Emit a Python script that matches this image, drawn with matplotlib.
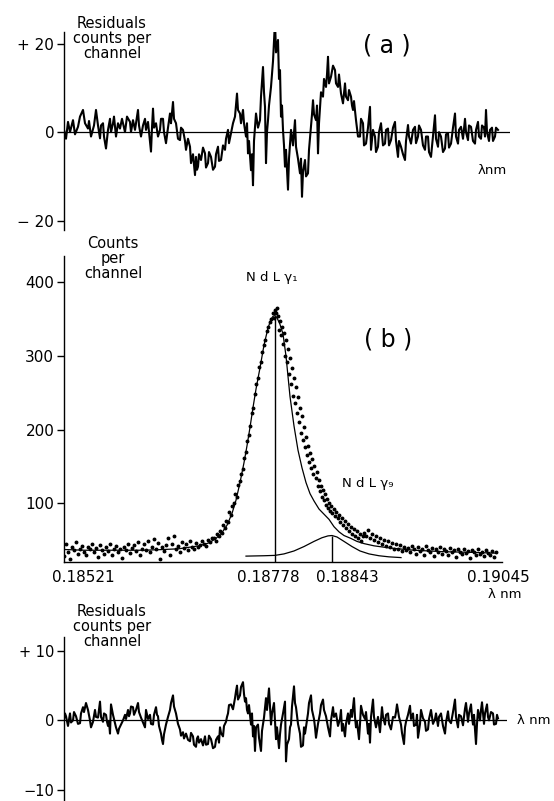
import matplotlib
matplotlib.use("Agg")
import matplotlib.pyplot as plt

plt.rcParams["font.family"] = ["DejaVu Sans"]

# ---------- data (x = channel number) ----------
# (a) residuals, counts per channel
res_a_ch = [0, 2, 4, 6, 9, 11, 14, 16, 19, 21, 24, 25, 27, 30, 32, 34, 36, 37, 39, 40,
            42, 44, 46, 47, 49, 50, 52, 54, 56, 58, 61, 63, 66, 67, 69, 71, 74, 75, 77, 79,
            81, 82, 84, 85, 87, 88, 89, 90, 92, 94, 96, 97, 99, 100, 102, 104, 106, 107, 109, 110,
            112, 114, 116, 117, 119, 121, 122, 124, 126, 127, 129, 131, 132, 133, 134, 135, 137, 139, 141, 142,
            144, 145, 147, 149, 151, 152, 154, 155, 157, 159, 161, 162, 164, 165, 167, 169, 171, 172, 173, 174,
            176, 177, 179, 180, 182, 183, 184, 185, 187, 188, 189, 190, 192, 194, 196, 197, 199, 200, 201, 202,
            203, 204, 205, 207, 209, 211, 212, 214, 215, 216, 217, 218, 219, 220, 221, 222, 224, 225, 227, 229,
            231, 232, 234, 236, 237, 238, 239, 241, 242, 244, 245, 247, 248, 249, 250, 252, 253, 254, 255, 256,
            257, 259, 260, 262, 263, 264, 265, 267, 269, 271, 272, 274, 275, 277, 279, 281, 282, 284, 285, 287,
            288, 289, 290, 292, 294, 296, 297, 299, 300, 302, 304, 306, 307, 309, 311, 312, 314, 315, 317, 319,
            321, 322, 324, 325, 327, 329, 331, 332, 334, 335, 337, 339, 341, 342, 344, 345, 347, 349, 351, 352,
            354, 355, 357, 359, 361, 362, 364, 365, 367, 369, 371, 372, 374, 375, 377, 379, 381, 382, 384, 385,
            387, 389, 391, 392, 394, 395, 397, 399, 401, 402, 404, 405, 407, 409, 411, 412, 414, 415, 417, 418,
            420, 421, 422, 423, 425, 426, 428, 429, 431, 432, 434]
res_a_val = [0.5, -1.5, 2.3, 0.0, 2.7, -0.5, 1.2, 3.5, 5.0, 2.0, 0.8, 2.5, -1.0, 1.5, 5.0, 1.5, -1.4, 1.5, 2.0, -1.0,
             -3.7, 0.5, 3.0, 0.0, 2.0, 3.5, -1.0, 2.0, 0.8, 3.0, 0.0, 3.5, 2.3, 0.0, 2.7, 0.5, 5.0, 1.5, -1.0, 1.5,
             3.0, 0.5, 2.3, 0.0, -4.4, 1.0, 5.3, 1.0, 2.0, -1.0, 0.5, 3.0, 3.0, 0.0, -2.5, 1.0, 4.2, 2.0, 6.8, 3.0,
             2.0, -1.5, -1.8, 1.0, 0.5, -2.0, -4.0, -1.5, -3.3, -7.0, -5.0, -9.7, -5.6, -8.5, -7.8, -5.0, -6.3, -3.5, -4.8, -8.0,
             -7.0, -4.5, -5.6, -8.5, -7.8, -5.0, -3.3, -6.5, -6.3, -3.0, -4.0, -1.5, 0.5, -2.5, -0.3, 2.0, 3.5, 6.0, 8.7, 5.0,
             4.2, 2.0, 5.0, 2.0, -1.0, 2.0, -4.8, -2.0, -8.6, -5.0, -12.0, -2.0, 4.2, 1.0, 2.7, 8.0, 14.7, 9.0, 5.7, -7.0,
             0.0, 2.7, 6.0, 10.2, 16.0, 25.0, 18.0, 20.8, 12.0, 14.0, 3.5, 6.0, 0.5, -3.0, -7.8, -4.0, -13.0, -6.0, 0.5, -3.0,
             2.7, -3.3, -6.0, -9.3, -6.0, -14.6, -9.0, -6.3, -10.0, -9.3, -4.0, 1.2, 4.0, 7.2, 4.0, 2.7, 6.0, -4.8, 2.0, 5.7,
             9.0, 8.0, 12.0, 10.2, 13.0, 17.0, 11.0, 12.5, 15.0, 14.0, 11.0, 10.2, 13.0, 8.7, 6.5, 11.0, 8.0, 7.2, 9.5, 8.0,
             6.0, 5.0, 7.0, 2.7, -1.0, -1.0, 3.0, 2.0, -3.0, -2.6, 1.0, 5.7, -4.0, 0.5, -1.0, -4.5, -3.3, 0.0, 2.0, -3.0,
             -2.6, 0.5, 0.8, -3.0, -1.8, 1.0, 2.3, -2.0, -5.6, -2.0, -3.3, -5.0, -6.3, -2.0, 1.6, -1.0, -2.6, 0.5, 1.2, -2.5,
             -1.0, 1.5, 0.5, -3.0, -4.0, -1.0, -1.0, -4.5, -5.6, -1.0, 3.8, -1.5, -3.3, 0.0, -1.0, -4.5, -3.7, -0.5, -0.3, -3.5,
             -2.6, 1.0, 4.2, -1.0, -2.6, 0.5, 1.2, -1.5, 3.0, 0.0, -1.8, 1.5, 1.2, -2.0, -2.6, 0.5, 2.3, -1.0, -1.5, 1.5,
             1.0, -1.0, 5.0, 0.0, -2.0, 0.5, 1.0, -2.0, -1.0, 1.0, 0.5]

# (b) measured spectrum (dots)
dot_ch = ([0, 2, 4, 6, 8, 10, 12, 14, 16, 18, 20, 22, 24, 26, 28, 30, 32, 34, 36, 38,
           40, 42, 44, 46, 48, 50, 52, 54, 56, 58, 60, 62, 64, 66, 68, 70, 72, 74, 76, 78,
           80, 82, 84, 86, 88, 90, 92, 94, 96, 98, 100, 102, 104, 106, 108, 110, 112, 114, 116, 118,
           120, 122, 124, 126, 128, 130, 132, 134, 136, 138, 140, 142, 144, 146, 148]
          + [150, 152, 153, 155, 156, 158, 159, 161, 162, 164, 165, 167, 168, 170, 171, 173, 174, 176, 177, 179,
             180, 182, 183, 185, 186, 188, 189, 191, 192, 194, 195, 197, 198, 200, 201, 203, 204, 206, 207, 209,
             210, 211, 212, 213]
          + [214, 215, 216, 217, 218, 219, 220, 221, 222, 223, 224, 225, 226, 227, 228, 229, 230, 231, 232, 233,
             234, 235, 236, 237, 238, 239, 240, 241, 242, 243, 244, 245, 246, 247, 248, 249, 250, 252, 253, 254,
             255, 256, 257, 258, 259, 260, 261, 262, 263, 264, 265, 266, 267, 268, 270, 271, 272, 274, 275, 276,
             278, 279, 281, 282, 284, 285, 287, 288, 290, 291, 293, 294, 296, 297, 299]
          + [300, 302, 304, 306, 308, 310, 312, 314, 316, 318, 320, 322, 324, 326, 328, 330, 332, 334, 336, 338,
             340, 342, 344, 346, 348, 350, 352, 354, 356, 358, 360, 362, 364, 366, 368, 370, 372, 374, 376, 378,
             380, 382, 384, 386, 388, 390, 392, 394, 396, 398, 400, 402, 404, 406, 408, 410, 412, 414, 416, 418,
             420, 422, 424, 426, 428, 430, 432])
dot_val = ([28, 44, 33, 24, 40, 36, 47, 31, 38, 42, 34, 29, 41, 37, 45, 33, 39, 27, 43, 36,
            31, 40, 35, 44, 30, 37, 42, 33, 38, 26, 41, 36, 45, 32, 39, 43, 35, 47, 30, 38,
            44, 36, 49, 33, 41, 51, 38, 46, 24, 40, 35, 43, 52, 29, 45, 55, 37, 42, 33, 47,
            39, 44, 36, 48, 41, 38, 46, 40, 43, 49, 45, 42, 50, 47, 53]
           + [52, 48, 58, 55, 62, 60, 70, 66, 76, 74, 88, 84, 96, 100, 112, 108, 125, 130, 140, 146,
              162, 170, 185, 192, 205, 222, 230, 248, 262, 270, 285, 292, 305, 315, 322, 334, 340, 346, 350, 358,
              352, 362, 358, 365]
           + [354, 336, 348, 328, 340, 316, 332, 300, 322, 292, 310, 276, 298, 262, 284, 246, 270, 236, 258, 222,
              244, 210, 230, 196, 218, 186, 204, 176, 190, 166, 178, 156, 168, 148, 160, 140, 150, 134, 142, 124,
              132, 116, 124, 108, 118, 104, 112, 98, 106, 94, 100, 90, 96, 86, 92, 82, 88, 80, 84, 74,
              80, 70, 76, 66, 72, 62, 68, 58, 65, 55, 62, 52, 58, 49, 56]
           + [60, 55, 64, 52, 58, 50, 56, 47, 53, 45, 50, 42, 48, 40, 46, 38, 44, 37, 43, 35,
              41, 36, 39, 33, 42, 37, 31, 40, 35, 38, 30, 42, 36, 33, 39, 28, 37, 34, 40, 31,
              38, 35, 29, 39, 33, 36, 27, 38, 34, 31, 37, 32, 35, 26, 36, 33, 30, 38, 31, 34,
              28, 36, 32, 29, 35, 27, 33])

# (b) fitted sum curve
fit_ch = [0, 20, 40, 60, 80, 100, 115, 125, 135, 145, 152, 158, 163, 168, 172, 176, 180, 183, 186, 189,
          192, 196, 200, 204, 207, 209, 211, 213, 216, 219, 222, 226, 230, 234, 238, 242, 246, 250, 255, 260,
          265, 270, 275, 280, 287, 293, 300, 310, 326, 350, 380, 410, 432]
fit_val = [37, 36, 36, 36, 36, 37, 38, 40, 42, 46, 52, 60, 70, 86, 104, 128, 155, 178, 203, 230,
           255, 284, 315, 338, 350, 354, 355, 352, 343, 330, 300, 245, 205, 172, 148, 128, 113, 103, 92, 85,
           78, 68, 61, 56, 52, 48, 45, 42, 39, 36, 34, 33, 32]

# (b) NdLy9 component
g9_ch = [182, 200, 211, 220, 230, 240, 250, 258, 264, 268, 273, 280, 288, 296, 305, 315, 325, 337]
g9_val = [28, 28.5, 29, 31, 35, 41, 48, 53, 55.5, 56, 54, 48, 41, 35, 31, 28.5, 27, 26]

# line positions (channel, peak height)
g1_pos, g1_top = 211, 355
g9_pos, g9_top = 268, 56

xtick_ch = [19, 204, 283, 434]
xtick_lab = ["0.18521", "0.18778", "0.18843", "0.19045"]

# (c) residuals after two-line fit
res_c_ch = [0, 1, 2, 4, 6, 7, 9, 10, 12, 14, 16, 17, 19, 20, 22, 24, 26, 27, 29, 31,
            32, 34, 35, 36, 37, 39, 40, 42, 43, 44, 45, 46, 47, 49, 51, 52, 54, 55, 57, 59,
            61, 62, 64, 65, 66, 67, 69, 70, 72, 73, 74, 75, 77, 79, 81, 82, 84, 86, 87, 89,
            90, 92, 93, 94, 95, 97, 98, 99, 100, 102, 104, 106, 107, 109, 110, 112, 114, 116, 117, 119,
            120, 122, 124, 126, 127, 129, 130, 132, 133, 134, 135, 137, 139, 141, 142, 144, 145, 147, 149, 151,
            152, 154, 155, 156, 157, 159, 160, 162, 163, 164, 165, 167, 169, 171, 172, 173, 174, 176, 177, 179,
            180, 181, 182, 183, 184, 185, 187, 188, 189, 190, 191, 192, 194, 195, 197, 198, 200, 201, 202, 203,
            205, 206, 207, 208, 210, 211, 212, 213, 215, 216, 217, 219, 221, 222, 223, 225, 226, 227, 228, 230,
            231, 232, 234, 236, 237, 239, 240, 241, 243, 244, 245, 247, 248, 250, 251, 252, 254, 256, 257, 259,
            260, 262, 264, 266, 267, 269, 270, 272, 274, 276, 277, 278, 279, 281, 282, 284, 285, 287, 288, 290,
            291, 292, 293, 295, 296, 297, 299, 301, 302, 304, 305, 306, 307, 309, 310, 312, 314, 316, 317, 318,
            319, 321, 322, 324, 325, 327, 329, 331, 332, 333, 335, 337, 338, 340, 341, 342, 344, 346, 347, 349,
            350, 352, 353, 354, 356, 357, 359, 361, 362, 364, 365, 367, 369, 371, 372, 374, 375, 377, 379, 381,
            382, 384, 385, 387, 389, 391, 392, 394, 395, 397, 399, 401, 402, 404, 405, 407, 408, 409, 410, 412,
            413, 414, 416, 417, 418, 420, 421, 423, 424, 425, 427, 429, 430, 432, 433, 434]
res_c_val = [0.2, 1.0, 0.6, -0.8, 1.0, -0.3, 0.0, 1.2, 0.6, -0.5, -0.4, 1.0, 1.9, 1.2, 2.5, 1.5, 0.0, -1.0, -0.2, 1.5,
             0.5, 0.4, 1.5, 2.7, 0.5, -0.2, 1.0, 0.8, -0.2, -0.8, -0.2, -1.9, 2.3, 0.8, -0.4, -1.0, -1.9, -1.2, -0.6, 0.0,
             0.8, 0.2, 1.5, 0.6, 1.0, 2.0, 1.9, 0.8, 1.5, 2.0, 2.5, 1.2, 0.4, -0.3, -1.0, 1.5, 0.2, 0.8, -0.5, -0.6,
             0.8, 1.9, 0.8, 0.6, -0.8, -1.9, -2.8, -3.4, -2.0, -0.6, 0.5, 1.5, 2.5, 3.6, 2.0, 1.0, -0.5, -1.3, -2.2, -1.7,
             -2.6, -1.9, -2.8, -3.0, -1.8, -2.3, -3.5, -3.8, -2.6, -2.3, -3.2, -2.7, -3.6, -2.3, -3.5, -3.4, -2.2, -2.7, -4.0, -3.8,
             -2.8, -2.3, -3.2, -1.0, -1.8, -2.3, -0.8, -0.2, 0.5, 1.0, 2.2, 2.3, 1.6, 3.2, 4.2, 5.0, 3.0, 3.6, 4.8, 5.5,
             3.8, 2.7, 3.2, 1.5, 1.0, 2.2, -0.6, 1.0, -2.3, -0.8, -4.4, -1.0, -0.6, -2.5, -4.4, -1.5, 0.4, 1.8, 3.2, 1.5,
             4.6, 2.0, -0.6, 1.0, 2.5, 0.0, -2.7, -1.0, -4.0, -2.0, -0.6, 1.0, 2.7, -5.9, -3.5, -2.7, -1.0, -0.6, 2.0, 4.9,
             2.5, 1.9, -0.5, -1.9, -3.8, -3.6, -1.0, -1.9, 0.0, 1.0, 2.5, 3.6, 1.5, 0.2, -1.0, -2.5, -0.5, 1.0, 2.2, 3.0,
             1.5, 0.6, -1.0, -2.3, 0.0, 1.9, 0.5, 1.0, -0.8, 0.2, 1.5, -1.5, -0.5, -2.3, -0.5, 1.0, -0.5, 1.5, 0.5, 3.2,
             0.5, -1.0, -0.2, -2.7, -0.5, 2.1, 0.8, 0.2, 1.2, -1.9, -0.5, -3.2, 0.5, 3.0, 0.5, -1.0, 0.5, -1.7, 0.2, 1.9,
             0.5, -0.6, 0.8, 1.0, -0.5, -1.3, 0.5, 0.4, 1.2, 2.3, 0.5, -0.6, -1.8, -3.4, -1.0, -0.2, 0.8, 2.1, 0.2, 1.0,
             -0.8, -0.6, 0.8, -2.5, -0.5, 1.5, 0.3, -0.2, -1.5, -1.3, 0.2, 1.5, -0.5, 0.2, 1.0, -0.8, 0.5, 1.0, -0.8, -1.9,
             -0.3, 1.3, 0.0, -0.4, 1.2, 3.0, 0.5, -1.0, 0.8, 0.6, -0.7, 1.7, 2.5, -0.2, 1.0, 2.3, 0.5, -0.6, 0.8, -3.4,
             -0.5, 1.5, 0.0, 1.5, 2.6, -0.5, 1.0, 2.3, 0.5, 0.0, 1.2, 1.0, -0.6, -0.5, 0.8, 0.3]

# ---------- figure layout in reference pixels ----------
W, H = 554, 801
fig = plt.figure(figsize=(W / 100, H / 100), dpi=100)


def box(left, right, top, bottom):
    return [left / W, 1 - bottom / H, (right - left) / W, (bottom - top) / H]


def ftext(px, py, s, **kw):
    fig.text(px / W, 1 - py / H, s, **kw)


def style_left(ax):
    for side in ["top", "right", "bottom"]:
        ax.spines[side].set_visible(False)
    ax.spines["left"].set_linewidth(1.0)
    ax.tick_params(axis="y", direction="out", length=5, width=1.0, pad=2, labelsize=11)
    ax.set_xticks([])
    ax.patch.set_alpha(0)


# (a)
ax_a = fig.add_axes(box(64, 510, 32, 230))
style_left(ax_a)
ax_a.plot(res_a_ch, res_a_val, color="black", lw=1.5)
ax_a.axhline(0, color="black", lw=0.9)
ax_a.set_xlim(0, 446)
ax_a.set_ylim(-22.1, 22.6)
ax_a.set_yticks([20, 0, -20])
ax_a.set_yticklabels(["+ 20", "0", "− 20"])

ftext(112, 39, "Residuals\ncounts per\nchannel", ha="center", va="center",
      fontsize=10.5, linespacing=1.0)
ftext(387, 45, "( a )", ha="center", va="center", fontsize=17)
ftext(492, 170, "λnm", ha="center", va="center", fontsize=9.5)

# (b)
ax_b = fig.add_axes(box(64, 502, 256, 562))
style_left(ax_b)
ax_b.spines["bottom"].set_visible(True)
ax_b.spines["bottom"].set_linewidth(1.0)
ax_b.plot(dot_ch, dot_val, ls="none", marker="o", ms=1.8, color="black")
ax_b.plot(fit_ch, fit_val, color="black", lw=0.9)
ax_b.plot(g9_ch, g9_val, color="black", lw=0.9)
ax_b.vlines([g1_pos, g9_pos], 20, [g1_top, g9_top], color="black", lw=1.0)
ax_b.set_xlim(0, 438)
ax_b.set_ylim(20, 436)
ax_b.set_yticks([100, 200, 300, 400])
ax_b.set_xticks(xtick_ch)
ax_b.set_xticklabels(xtick_lab)
ax_b.tick_params(axis="x", length=0, pad=6, labelsize=11)

ftext(113, 259, "Counts\nper\nchannel", ha="center", va="center",
      fontsize=10.5, linespacing=1.0)
ftext(272, 278, "N d L γ₁", ha="center", va="center", fontsize=9.5)
ftext(388, 340, "( b )", ha="center", va="center", fontsize=17)
ftext(368, 484, "N d L γ₉", ha="center", va="center", fontsize=9.5)
ftext(505, 594, "λ nm", ha="center", va="center", fontsize=9.5)

# (c)
ax_c = fig.add_axes(box(64, 507, 637, 801))
style_left(ax_c)
ax_c.plot(res_c_ch, res_c_val, color="black", lw=1.5)
ax_c.axhline(0, color="black", lw=0.9)
ax_c.set_xlim(0, 443)
ax_c.set_ylim(-11.6, 12.0)
ax_c.set_yticks([10, 0, -10])
ax_c.set_yticklabels(["+ 10", "0", "−10"])
ax_c.tick_params(axis="y", labelsize=10.5)

ftext(112, 627, "Residuals\ncounts per\nchannel", ha="center", va="center",
      fontsize=10.5, linespacing=1.0)
ftext(534, 720, "λ nm", ha="center", va="center", fontsize=9.5)

fig.savefig("out.png", dpi=100)
